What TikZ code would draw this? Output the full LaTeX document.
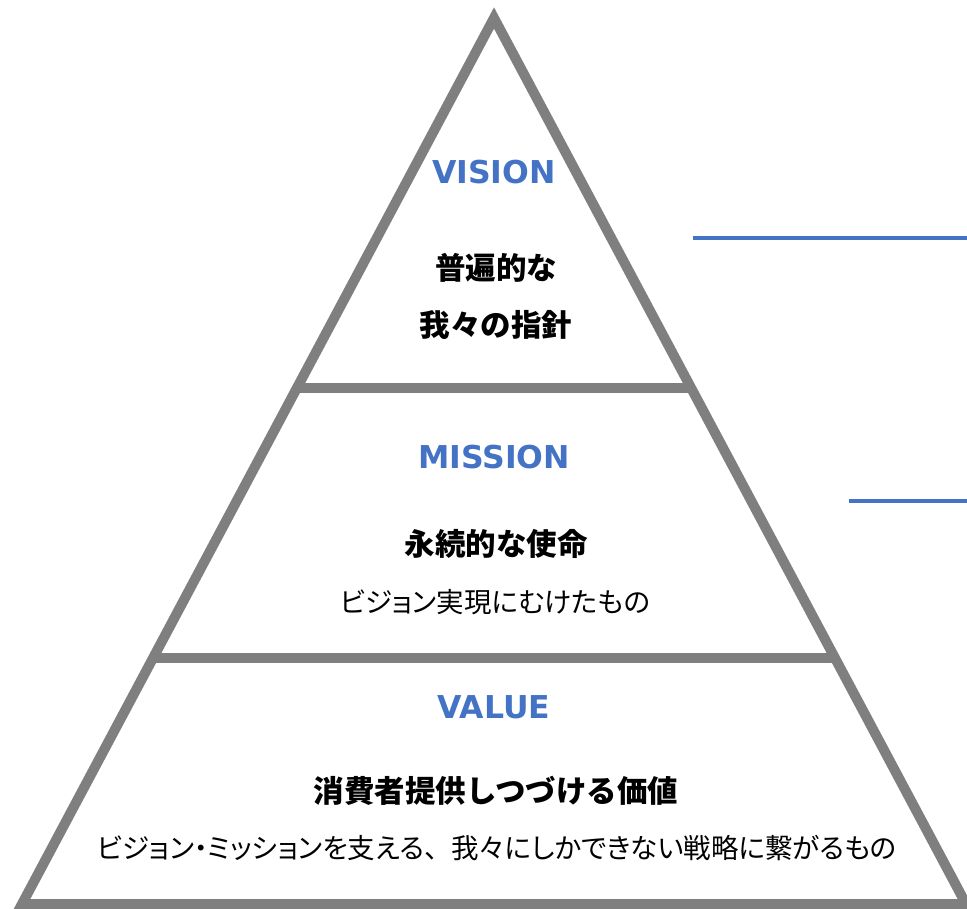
\documentclass[tikz,border=0pt]{standalone}
\usepackage{fontspec}
\setmainfont{DejaVu Sans}
\newfontfamily\jp{Noto Sans CJK JP}
\newfontfamily\jpp[RawFeature=+palt]{Noto Sans CJK JP}
\usetikzlibrary{calc}
\definecolor{pgray}{HTML}{7F7F7F}
\definecolor{pblue}{HTML}{4472C4}
\tikzset{
  frame/.style={draw=pgray, line width=10pt, line join=miter},
  bar/.style={draw=pgray, line width=10pt},
  bluerule/.style={draw=pblue, line width=3.2pt},
  head/.style={inner sep=0pt, text=pblue, font=\fontsize{31.5}{32}\selectfont\bfseries},
  jbold/.style={inner sep=0pt, font=\jp\fontsize{30.5}{32}\selectfont\bfseries},
  jreg/.style={inner sep=0pt, font=\jpp\fontsize{27.5}{30}\selectfont}
}
\begin{document}
\begin{tikzpicture}[x=1pt,y=-1pt]
\useasboundingbox (0,0) rectangle (967,909);
\clip (0,0) rectangle (967,909);
\coordinate (top) at (494,18);
\coordinate (bl) at (22,904);
\coordinate (br) at (966,904);
\draw[frame] (top) -- (bl) -- (br) -- cycle;
\coordinate (d1l) at ($(top)!0.4176!(bl)$);
\coordinate (d1r) at ($(top)!0.4176!(br)$);
\coordinate (d2l) at ($(top)!0.7223!(bl)$);
\coordinate (d2r) at ($(top)!0.7223!(br)$);
\draw[bar] (d1l) -- (d1r);
\draw[bar] (d2l) -- (d2r);
\coordinate (b1s) at (693,238);
\coordinate (b1e) at (967,238);
\coordinate (b2s) at (849,501);
\coordinate (b2e) at (967,501);
\draw[bluerule] (b1s) -- (b1e);
\draw[bluerule] (b2s) -- (b2e);
\node[head] (vision) at (494,172) {VISION};
\node[jbold] (v1) at (496,268) {普遍的な};
\node[jbold] (v2) at (496,325) {我々の指針};
\node[head] (mission) at (494,457) {MISSION};
\node[jbold] (m1) at (496,544) {永続的な使命};
\node[jreg] (m2) at (495,602) {ビジョン実現にむけたもの};
\node[head] (value) at (494,707) {VALUE};
\node[jbold] (va1) at (496,791) {消費者提供しつづける価値};
\node[jreg] (va2) at (497,848) {ビジョン・ミッションを支える{\jp 、}我々にしかできない戦略に繋がるもの};
\end{tikzpicture}
\end{document}
